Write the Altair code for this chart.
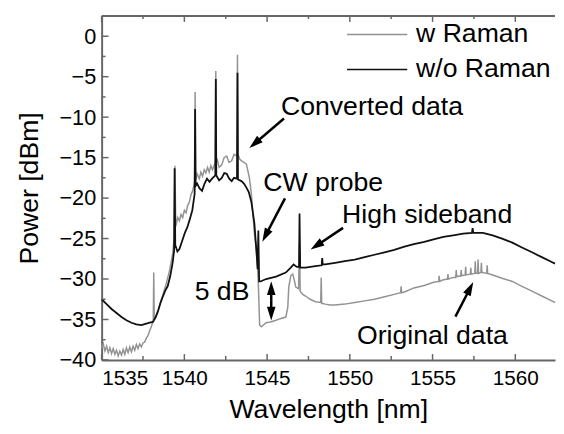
import math
import altair as alt
import pandas as pd

# ---------------- data ----------------
gray_wl = [1535.00, 1535.10, 1535.20, 1535.30, 1535.40, 1535.50, 1535.60, 1535.70, 1535.80, 1535.90,
           1536.00, 1536.10, 1536.20, 1536.30, 1536.40, 1536.50, 1536.60, 1536.70, 1536.80, 1536.90,
           1537.00, 1537.10, 1537.20, 1537.30, 1537.40, 1537.50, 1537.60, 1537.70, 1537.80, 1537.90,
           1538.00, 1538.08, 1538.12, 1538.15, 1538.18, 1538.30, 1538.40, 1538.50, 1538.60, 1538.70,
           1538.80, 1538.90, 1539.00, 1539.10, 1539.20, 1539.30, 1539.38, 1539.43, 1539.48, 1539.60,
           1539.70, 1539.80, 1539.90, 1540.00, 1540.10, 1540.20, 1540.30, 1540.40, 1540.50, 1540.62,
           1540.65, 1540.68, 1540.77, 1540.90, 1541.00, 1541.10, 1541.20, 1541.30, 1541.40, 1541.50,
           1541.60, 1541.70, 1541.87, 1541.90, 1541.93, 1542.00, 1542.10, 1542.26, 1542.40, 1542.56,
           1542.70, 1542.86, 1543.00, 1543.18, 1543.21, 1543.24, 1543.35, 1543.45, 1543.60, 1543.75,
           1543.93, 1544.05, 1544.11, 1544.23, 1544.35, 1544.46, 1544.55, 1544.65, 1544.94, 1545.20,
           1545.54, 1545.80, 1546.13, 1546.25, 1546.31, 1546.43, 1546.55, 1546.65, 1546.73, 1546.90,
           1546.96, 1547.00, 1547.15, 1547.32, 1547.60, 1547.92, 1548.24, 1548.27, 1548.30, 1548.51,
           1548.80, 1549.11, 1549.70, 1550.30, 1550.90, 1551.49, 1552.10, 1552.68, 1553.07, 1553.10,
           1553.13, 1553.30, 1553.87, 1554.50, 1555.06, 1555.37, 1555.40, 1555.43, 1555.65, 1555.90,
           1555.93, 1555.96, 1556.25, 1556.40, 1556.43, 1556.46, 1556.70, 1556.73, 1556.76, 1556.97,
           1557.00, 1557.03, 1557.28, 1557.31, 1557.34, 1557.55, 1557.58, 1557.61, 1557.72, 1557.75,
           1557.78, 1557.92, 1557.95, 1557.98, 1558.04, 1558.27, 1558.30, 1558.33, 1558.63, 1559.20,
           1559.82, 1560.40, 1561.01, 1561.60, 1562.20, 1562.40]
gray_db = [-38.6, -38.0, -38.9, -38.3, -39.1, -38.5, -39.2, -38.6, -39.3, -38.8,
           -39.5, -38.9, -39.4, -38.7, -39.3, -38.5, -39.1, -38.4, -39.0, -38.3,
           -38.8, -38.1, -38.6, -38.0, -38.4, -37.9, -37.8, -37.3, -37.0, -36.4,
           -35.9, -35.4, -35.2, -29.2, -35.0, -34.5, -34.0, -33.3, -32.6, -32.0,
           -31.3, -30.6, -29.8, -29.0, -27.9, -26.8, -25.0, -16.0, -23.5, -22.4,
           -22.8, -22.0, -22.4, -21.5, -21.8, -20.9, -20.5, -19.6, -19.1, -18.0,
           -6.9, -17.8, -17.0, -17.6, -16.8, -17.3, -16.5, -16.9, -16.2, -16.8,
           -16.0, -16.5, -15.6, -4.3, -15.6, -15.3, -16.2, -15.9, -15.0, -14.8,
           -15.6, -15.4, -14.6, -14.8, -2.3, -14.6, -15.2, -15.4, -15.6, -15.8,
           -17.5, -19.5, -21.1, -24.3, -26.4, -30.0, -35.7, -35.9, -35.4, -35.3,
           -35.1, -34.9, -34.7, -33.5, -31.0, -29.6, -29.4, -30.2, -31.0, -31.2,
           -25.5, -31.5, -31.9, -32.1, -32.5, -32.8, -32.9, -29.8, -33.0, -33.1,
           -33.2, -33.2, -33.1, -32.9, -32.7, -32.5, -32.2, -31.9, -31.7, -30.9,
           -31.7, -31.6, -31.1, -30.8, -30.4, -30.3, -29.6, -30.3, -30.1, -30.0,
           -29.4, -30.0, -29.8, -29.8, -28.9, -29.7, -29.6, -28.9, -29.6, -29.5,
           -28.5, -29.5, -29.4, -28.6, -29.4, -29.3, -27.8, -29.3, -29.3, -27.6,
           -29.3, -29.2, -28.0, -29.2, -29.2, -29.3, -28.3, -29.3, -29.5, -29.9,
           -30.3, -30.9, -31.5, -32.1, -32.7, -32.9]

black_wl = [1535.00, 1535.30, 1535.60, 1535.90, 1536.20, 1536.50, 1536.80, 1537.10, 1537.40, 1537.70,
            1537.90, 1538.10, 1538.27, 1538.40, 1538.55, 1538.69, 1538.85, 1538.99, 1539.15, 1539.29,
            1539.38, 1539.41, 1539.45, 1539.58, 1539.70, 1539.88, 1540.03, 1540.18, 1540.33, 1540.48,
            1540.62, 1540.65, 1540.68, 1540.77, 1540.92, 1541.07, 1541.22, 1541.37, 1541.52, 1541.67,
            1541.87, 1541.90, 1541.93, 1542.10, 1542.26, 1542.41, 1542.56, 1542.71, 1542.86, 1543.00,
            1543.18, 1543.21, 1543.24, 1543.45, 1543.60, 1543.75, 1543.90, 1544.05, 1544.23, 1544.35,
            1544.43, 1544.47, 1544.52, 1544.60, 1544.94, 1545.54, 1546.13, 1546.43, 1546.60, 1546.80,
            1546.93, 1546.96, 1547.00, 1547.32, 1547.92, 1548.30, 1548.33, 1548.36, 1548.51, 1549.11,
            1549.70, 1550.30, 1550.90, 1551.49, 1552.10, 1552.68, 1553.30, 1553.87, 1554.50, 1555.06,
            1555.65, 1556.25, 1556.85, 1557.38, 1557.42, 1557.46, 1558.04, 1558.63, 1559.20, 1559.82,
            1560.40, 1561.01, 1561.60, 1562.20, 1562.40]
black_db = [-32.5, -33.1, -33.7, -34.2, -34.7, -35.1, -35.4, -35.6, -35.7, -35.5,
            -35.4, -35.3, -34.7, -34.0, -33.0, -32.2, -31.4, -30.9, -29.6, -28.0,
            -26.5, -16.3, -25.8, -26.6, -26.3, -25.2, -24.3, -23.6, -22.6, -21.5,
            -19.5, -9.0, -18.5, -18.2, -18.8, -19.1, -18.2, -17.6, -18.0, -17.6,
            -17.2, -5.3, -17.2, -17.8, -17.5, -16.9, -17.0, -17.6, -17.9, -17.5,
            -17.6, -4.5, -17.7, -17.9, -18.2, -18.7, -19.3, -20.5, -23.1, -26.4,
            -28.8, -24.0, -30.3, -30.3, -30.0, -29.7, -29.2, -28.6, -28.2, -28.5,
            -28.5, -21.9, -28.6, -28.6, -28.4, -28.3, -27.4, -28.2, -28.2, -28.0,
            -27.8, -27.6, -27.3, -27.0, -26.7, -26.4, -26.0, -25.7, -25.4, -25.1,
            -24.8, -24.6, -24.4, -24.3, -23.7, -24.3, -24.3, -24.6, -25.0, -25.5,
            -26.1, -26.7, -27.3, -27.9, -28.1]

series_names = ["w Raman", "w/o Raman"]
series_colors = ["#939393", "#111111"]

x_major = [1535, 1540, 1545, 1550, 1555, 1560]
x_minor = [1537.5, 1542.5, 1547.5, 1552.5, 1557.5]
y_major = [-40, -35, -30, -25, -20, -15, -10, -5, 0]
y_minor = [-37.5, -32.5, -27.5, -22.5, -17.5, -12.5, -7.5, -2.5]

# ---------------- layout ----------------
X_DOMAIN = [1535, 1562.4]
Y_DOMAIN = [-40, 2.5]
W, H = 460, 349
KX = W / (X_DOMAIN[1] - X_DOMAIN[0])
KY = H / (Y_DOMAIN[1] - Y_DOMAIN[0])
FONT = "Liberation Sans"
AXIS_GRAY = "#666666"

xs = alt.Scale(domain=X_DOMAIN, nice=False, zero=False)
ys = alt.Scale(domain=Y_DOMAIN, nice=False, zero=False)
AX = alt.Axis(values=x_major, title="Wavelength [nm]", ticks=False, grid=False,
              labelPadding=8, titlePadding=8, labelFontSize=21, titleFontSize=27,
              format="d")
AY = alt.Axis(values=y_major, title="Power [dBm]", ticks=False, grid=False,
              labelPadding=6, titlePadding=16, labelFontSize=22, titleFontSize=27,
              format="d")


def X(field):
    return alt.X(field, scale=xs, axis=AX)


def Y(field):
    return alt.Y(field, scale=ys, axis=AY)


gray_df = pd.DataFrame({"wl": gray_wl, "db": gray_db})
black_df = pd.DataFrame({"wl": black_wl, "db": black_db})

gray_line = alt.Chart(gray_df).mark_line(color=series_colors[0], strokeWidth=1.5).encode(
    x=X("wl:Q"), y=Y("db:Q"))
black_line = alt.Chart(black_df).mark_line(color=series_colors[1], strokeWidth=1.8).encode(
    x=X("wl:Q"), y=Y("db:Q"))


# inward ticks and top frame
def yticks(vals, length):
    return alt.Chart(pd.DataFrame({"v": vals})).mark_rule(color=AXIS_GRAY, strokeWidth=1.5).encode(
        y=Y("v:Q"), x=alt.value(0), x2=alt.value(length))


def xticks(vals, length, top):
    if top:
        y1, y2 = 0, length
    else:
        y1, y2 = H, H - length
    return alt.Chart(pd.DataFrame({"v": vals})).mark_rule(color=AXIS_GRAY, strokeWidth=1.5).encode(
        x=X("v:Q"), y=alt.value(y1), y2=alt.value(y2))


top_frame = alt.Chart(pd.DataFrame({"a": [0]})).mark_rule(color=AXIS_GRAY, strokeWidth=2).encode(
    x=alt.value(0), x2=alt.value(W), y=alt.value(0))

# legend
leg_df = pd.DataFrame({
    "x1": [1549.83, 1549.83], "x2": [1553.47, 1553.47], "tx": [1554.0, 1554.0],
    "y": [0.2, -4.1], "label": series_names, "color": series_colors})
leg_lines = alt.Chart(leg_df).mark_rule(strokeWidth=1.5).encode(
    x=X("x1:Q"), x2="x2:Q", y=Y("y:Q"),
    color=alt.Color("color:N", scale=None))
leg_text = alt.Chart(leg_df).mark_text(align="left", baseline="middle", font=FONT,
                                       fontSize=27, color="#000").encode(
    x=X("tx:Q"), y=Y("y:Q"), text="label:N")

# annotations
ann_df = pd.DataFrame({
    "text": ["Converted data", "CW probe", "High sideband", "Original data"],
    "x": [1545.84, 1544.77, 1549.53, 1550.43],
    "y": [-8.7, -18.2, -22.1, -37.0]})
ann_text = alt.Chart(ann_df).mark_text(align="left", baseline="middle", font=FONT,
                                       fontSize=27, color="#000").encode(
    x=X("x:Q"), y=Y("y:Q"), text="text:N")
db_df = pd.DataFrame({"text": ["5 dB"], "x": [1543.93], "y": [-31.6]})
db_text = alt.Chart(db_df).mark_text(align="right", baseline="middle", font=FONT,
                                     fontSize=27, color="#000").encode(
    x=X("x:Q"), y=Y("y:Q"), text="text:N")

# arrows: (start x, start y, end x, end y) in data units
arrows = [
    (1546.02, -10.17, 1543.93, -13.82),
    (1546.08, -20.03, 1544.71, -25.39),
    (1549.59, -23.68, 1547.63, -26.36),
    (1556.38, -34.64, 1557.46, -30.38),
    (1545.25, -32.7, 1545.25, -30.26),
    (1545.25, -32.7, 1545.25, -35.13),
]
HEAD = 14
shaft_rows, head_rows = [], []
for sx, sy, ex, ey in arrows:
    dx = (ex - sx) * KX
    dy = -(ey - sy) * KY
    L = math.hypot(dx, dy)
    ux, uy = dx / L, dy / L
    ang = math.degrees(math.atan2(ux, -uy)) % 360
    hx = ex - ux * (HEAD / 2) / KX
    hy = ey + uy * (HEAD / 2) / KY
    shaft_rows.append({"x1": sx, "y1": sy, "x2": hx, "y2": hy})
    head_rows.append({"x": hx, "y": hy, "angle": ang})
shafts = alt.Chart(pd.DataFrame(shaft_rows)).mark_rule(color="#000", strokeWidth=2.5).encode(
    x=X("x1:Q"), x2="x2:Q", y=Y("y1:Q"), y2="y2:Q")
heads = alt.Chart(pd.DataFrame(head_rows)).mark_point(
    shape="M0,-1L0.62,1L-0.62,1Z", size=HEAD * HEAD, filled=True, opacity=1,
    color="#000", strokeWidth=0).encode(
    x=X("x:Q"), y=Y("y:Q"), angle=alt.Angle("angle:Q", scale=None))

chart = alt.layer(
    gray_line, black_line,
    yticks(y_major, 7), yticks(y_minor, 4),
    xticks(x_major, 6, False), xticks(x_minor, 4, False),
    xticks(x_major, 6, True), xticks(x_minor, 3, True),
    top_frame, leg_lines, leg_text, ann_text, db_text, shafts, heads,
).properties(
    width=W, height=H,
    padding={"left": 95, "top": 5, "right": 1, "bottom": 70},
    autosize=alt.AutoSizeParams(type="none"),
    background="white",
).configure_view(strokeWidth=0).configure_axis(
    domainColor=AXIS_GRAY, domainWidth=2, labelFont=FONT, titleFont=FONT,
    labelColor="#000", titleColor="#000", titleFontWeight="normal",
)

chart.save("out.html", embed_options={"renderer": "svg", "actions": False})
